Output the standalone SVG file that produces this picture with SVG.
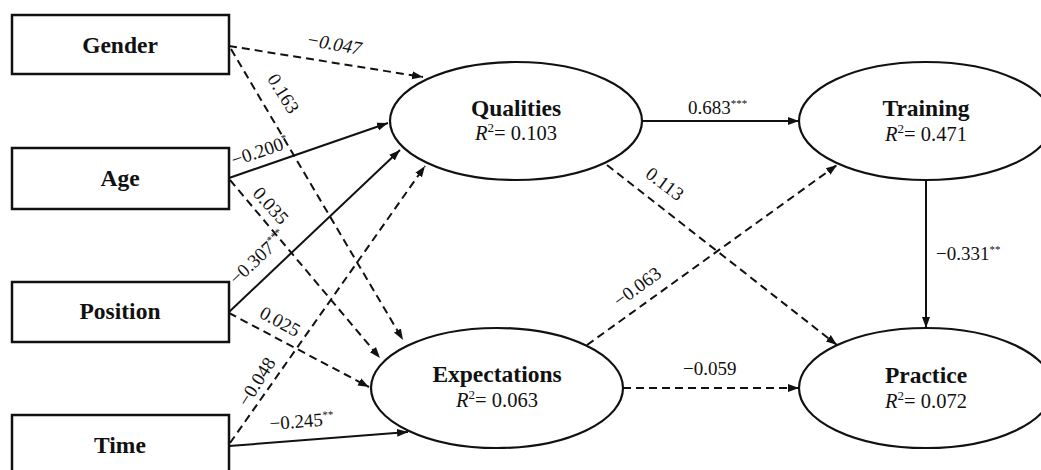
<svg xmlns="http://www.w3.org/2000/svg" width="1041" height="470" viewBox="0 0 1041 470">
<style>
.box{fill:#fff;stroke:#111;stroke-width:2.5}
.ell{fill:#fff;stroke:#111;stroke-width:2.2}
.nt{font-family:"Liberation Serif",serif;font-weight:bold;font-size:23.5px;fill:#111;text-anchor:middle}
.r2{font-family:"Liberation Serif",serif;font-size:20.5px;fill:#111;text-anchor:middle}
.c{stroke:#111;stroke-width:2;fill:none}
.d{stroke-dasharray:8 5}
.lb{font-family:"Liberation Serif",serif;font-size:19px;fill:#111}
.st{font-size:11px}
</style>
<defs>
<marker id="ah" markerWidth="12" markerHeight="10" refX="11" refY="5" orient="auto" markerUnits="userSpaceOnUse">
<path d="M0,1 L11,5 L0,9 Z" fill="#111"/>
</marker>
</defs>
<rect width="1041" height="470" fill="#fff"/>
<g id="connectors">
<line class="c d" x1="229" y1="46" x2="423" y2="77" marker-end="url(#ah)"/>
<line class="c d" x1="231" y1="49" x2="403" y2="340" marker-end="url(#ah)"/>
<line class="c" x1="229" y1="178" x2="388" y2="123" marker-end="url(#ah)"/>
<line class="c d" x1="230" y1="180" x2="380" y2="358" marker-end="url(#ah)"/>
<line class="c" x1="229" y1="312" x2="400" y2="150" marker-end="url(#ah)"/>
<line class="c d" x1="229" y1="313" x2="369" y2="387" marker-end="url(#ah)"/>
<line class="c d" x1="230" y1="443" x2="425" y2="166" marker-end="url(#ah)"/>
<line class="c" x1="229" y1="446" x2="408" y2="432" marker-end="url(#ah)"/>
<line class="c" x1="642" y1="121" x2="799" y2="121" marker-end="url(#ah)"/>
<line class="c d" x1="607" y1="165" x2="837" y2="345" marker-end="url(#ah)"/>
<line class="c d" x1="587" y1="345" x2="837" y2="165" marker-end="url(#ah)"/>
<line class="c d" x1="623" y1="388" x2="799" y2="388" marker-end="url(#ah)"/>
<line class="c" x1="926" y1="180" x2="926" y2="328" marker-end="url(#ah)"/>
<text class="lb" font-style="italic" transform="translate(333,50) rotate(10)" text-anchor="middle">−0.047</text>
<text class="lb" transform="translate(278,97) rotate(58)" text-anchor="middle">0.163</text>
<text class="lb" transform="translate(262,157) rotate(-19)" text-anchor="middle">−0.200<tspan class="st" dy="-7">*</tspan></text>
<text class="lb" transform="translate(266,210) rotate(48)" text-anchor="middle">0.035</text>
<text class="lb" transform="translate(262,262) rotate(-43)" text-anchor="middle">−0.307<tspan class="st" dy="-7">***</tspan></text>
<text class="lb" transform="translate(277,327) rotate(29)" text-anchor="middle">0.025</text>
<text class="lb" transform="translate(262,385) rotate(-58)" text-anchor="middle">−0.048</text>
<text class="lb" transform="translate(270,430) rotate(-4.5)">−0.245<tspan class="st" dy="-7">**</tspan></text>
<text class="lb" x="688" y="114">0.683<tspan class="st" dy="-7">***</tspan></text>
<text class="lb" transform="translate(661,189) rotate(37)" text-anchor="middle">0.113</text>
<text class="lb" transform="translate(641,292) rotate(-36)" text-anchor="middle">−0.063</text>
<text class="lb" x="683" y="375">−0.059</text>
<text class="lb" x="936" y="260">−0.331<tspan class="st" dy="-7">**</tspan></text>
</g>
<g id="gender"><rect class="box" x="12" y="15" width="217" height="59"/><text class="nt" x="120" y="53">Gender</text></g>
<g id="age"><rect class="box" x="12" y="148" width="217" height="61"/><text class="nt" x="120" y="186">Age</text></g>
<g id="position"><rect class="box" x="12" y="282" width="217" height="60"/><text class="nt" x="120" y="319">Position</text></g>
<g id="time"><rect class="box" x="12" y="415" width="217" height="62"/><text class="nt" x="120" y="453">Time</text></g>
<g id="qualities"><ellipse class="ell" cx="516" cy="121" rx="126" ry="59"/><text class="nt" x="516" y="116">Qualities</text><text class="r2" x="516" y="140"><tspan font-style="italic">R</tspan><tspan font-size="13" dy="-8">2</tspan><tspan dy="8">= 0.103</tspan></text></g>
<g id="expectations"><ellipse class="ell" cx="497" cy="388" rx="126" ry="60"/><text class="nt" x="497" y="382">Expectations</text><text class="r2" x="497" y="407"><tspan font-style="italic">R</tspan><tspan font-size="13" dy="-8">2</tspan><tspan dy="8">= 0.063</tspan></text></g>
<g id="training"><ellipse class="ell" cx="926" cy="121" rx="127" ry="59"/><text class="nt" x="926" y="116">Training</text><text class="r2" x="926" y="141"><tspan font-style="italic">R</tspan><tspan font-size="13" dy="-8">2</tspan><tspan dy="8">= 0.471</tspan></text></g>
<g id="practice"><ellipse class="ell" cx="926" cy="388" rx="127" ry="60"/><text class="nt" x="926" y="383">Practice</text><text class="r2" x="926" y="408"><tspan font-style="italic">R</tspan><tspan font-size="13" dy="-8">2</tspan><tspan dy="8">= 0.072</tspan></text></g>
</svg>
